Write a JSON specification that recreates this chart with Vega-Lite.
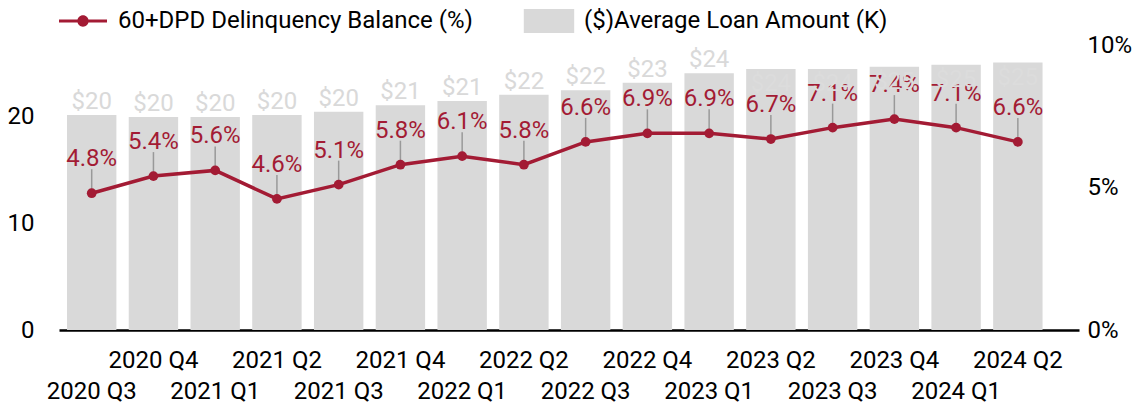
{
  "$schema": "https://vega.github.io/schema/vega-lite/v6.json",
  "width": 1020,
  "height": 285,
  "autosize": {"type": "none"},
  "padding": {"left": 59, "top": 45, "right": 53, "bottom": 73},
  "background": "white",
  "config": {
    "font": "Roboto",
    "view": {"stroke": null},
    "axis": {"labelFont": "Roboto", "labelFontSize": 24, "labelColor": "#000000", "grid": false, "ticks": false, "title": null}
  },
  "data": {
    "values": [
      {"q": "2020 Q3", "amt": 20.1, "dpd": 0.048},
      {"q": "2020 Q4", "amt": 19.9, "dpd": 0.054},
      {"q": "2021 Q1", "amt": 19.9, "dpd": 0.056},
      {"q": "2021 Q2", "amt": 20.1, "dpd": 0.046},
      {"q": "2021 Q3", "amt": 20.4, "dpd": 0.051},
      {"q": "2021 Q4", "amt": 21.0, "dpd": 0.058},
      {"q": "2022 Q1", "amt": 21.4, "dpd": 0.061},
      {"q": "2022 Q2", "amt": 22.0, "dpd": 0.058},
      {"q": "2022 Q3", "amt": 22.4, "dpd": 0.066},
      {"q": "2022 Q4", "amt": 23.1, "dpd": 0.069},
      {"q": "2023 Q1", "amt": 24.0, "dpd": 0.069},
      {"q": "2023 Q2", "amt": 24.4, "dpd": 0.067},
      {"q": "2023 Q3", "amt": 24.4, "dpd": 0.071},
      {"q": "2023 Q4", "amt": 24.6, "dpd": 0.074},
      {"q": "2024 Q1", "amt": 24.8, "dpd": 0.071},
      {"q": "2024 Q2", "amt": 25.0, "dpd": 0.066}
    ]
  },
  "encoding": {
    "x": {
      "field": "q",
      "type": "ordinal",
      "sort": null,
      "scale": {"paddingInner": 0.2, "paddingOuter": 0.36, "align": 0.18},
      "axis": {
        "labelAngle": 0,
        "labelOverlap": false,
        "labelBound": false,
        "labelFlush": false,
        "domain": true,
        "domainColor": "#000000",
        "domainWidth": 2.5,
        "labelBaseline": "top",
        "labelPadding": {"condition": {"test": "indexof(datum.label, 'Q1') >= 0 || indexof(datum.label, 'Q3') >= 0", "value": 49}, "value": 18}
      }
    }
  },
  "layer": [
    {
      "mark": {"type": "bar", "color": "#d9d9d9"},
      "encoding": {
        "y": {"field": "amt", "type": "quantitative", "scale": {"domain": [0, 26.64], "nice": false}, "axis": {"orient": "left", "values": [0, 10, 20], "domain": false, "labelPadding": 25}},
        "color": {
          "datum": "($)Average Loan Amount (K)",
          "type": "nominal",
          "scale": {"domain": ["60+DPD Delinquency Balance (%)", "($)Average Loan Amount (K)"], "range": ["#A31B34", "#d9d9d9"]},
          "legend": {
            "title": null,
            "orient": "none",
            "legendX": 12,
            "legendY": -36,
            "direction": "horizontal",
            "labelFont": "Roboto",
            "labelFontSize": 24,
            "labelColor": "#000000",
            "labelLimit": 1000,
            "labelOffset": 23,
            "columnPadding": 50,
            "symbolSize": 576,
            "encode": {
              "symbols": {
                "update": {
                  "shape": {"signal": "datum.value == '60+DPD Delinquency Balance (%)' ? 'M-2,-0.13L2,-0.13L2,0.13L-2,0.13Z M0.47,0A0.47,0.47 0 1,1 -0.47,0A0.47,0.47 0 1,1 0.47,0Z' : 'M-2.1,-1L2.1,-1L2.1,1L-2.1,1Z'"},
                  "fill": {"signal": "datum.value == '60+DPD Delinquency Balance (%)' ? '#A31B34' : '#d9d9d9'"},
                  "stroke": {"value": "transparent"},
                  "strokeWidth": {"value": 0},
                  "opacity": {"value": 1},
                  "fillOpacity": {"value": 1}
                }
              }
            }
          }
        }
      }
    },
    {
      "mark": {"type": "line", "strokeWidth": 3.5},
      "encoding": {
        "y": {"field": "dpd", "type": "quantitative", "scale": {"domain": [0, 0.1], "nice": false}, "axis": {"orient": "right", "values": [0, 0.05, 0.1], "format": ".0%", "domain": false, "labelPadding": 8}},
        "color": {"datum": "60+DPD Delinquency Balance (%)", "type": "nominal"}
      }
    },
    {
      "mark": {"type": "rule", "color": "#999999", "strokeWidth": 1.5, "y2Offset": -24},
      "encoding": {
        "y": {"field": "dpd", "type": "quantitative", "scale": {"domain": [0, 0.1], "nice": false}, "axis": null},
        "y2": {"field": "dpd"}
      }
    },
    {
      "mark": {"type": "point", "filled": true, "size": 95, "opacity": 1, "color": "#A31B34"},
      "encoding": {
        "y": {"field": "dpd", "type": "quantitative", "scale": {"domain": [0, 0.1], "nice": false}, "axis": null}
      }
    },
    {
      "mark": {"type": "text", "fontSize": 24, "font": "Roboto", "color": "#A31B34", "dy": -27, "baseline": "alphabetic"},
      "encoding": {
        "y": {"field": "dpd", "type": "quantitative", "scale": {"domain": [0, 0.1], "nice": false}, "axis": null},
        "text": {"field": "dpd", "format": ".1%"}
      }
    },
    {
      "transform": [{"filter": "datum.amt < 24.2"}],
      "mark": {"type": "text", "fontSize": 24, "font": "Roboto", "color": "#d9d9d9", "dy": -6, "baseline": "alphabetic"},
      "encoding": {
        "y": {"field": "amt", "type": "quantitative", "scale": {"domain": [0, 26.64], "nice": false}, "axis": null},
        "text": {"field": "amt", "format": "$.0f"}
      }
    },
    {
      "transform": [{"filter": "datum.amt >= 24.2"}],
      "mark": {"type": "text", "fontSize": 24, "font": "Roboto", "color": "#dcdcdc", "dy": 3, "baseline": "top"},
      "encoding": {
        "y": {"field": "amt", "type": "quantitative", "scale": {"domain": [0, 26.64], "nice": false}, "axis": null},
        "text": {"field": "amt", "format": "$.0f"}
      }
    }
  ],
  "resolve": {"scale": {"y": "independent"}}
}
